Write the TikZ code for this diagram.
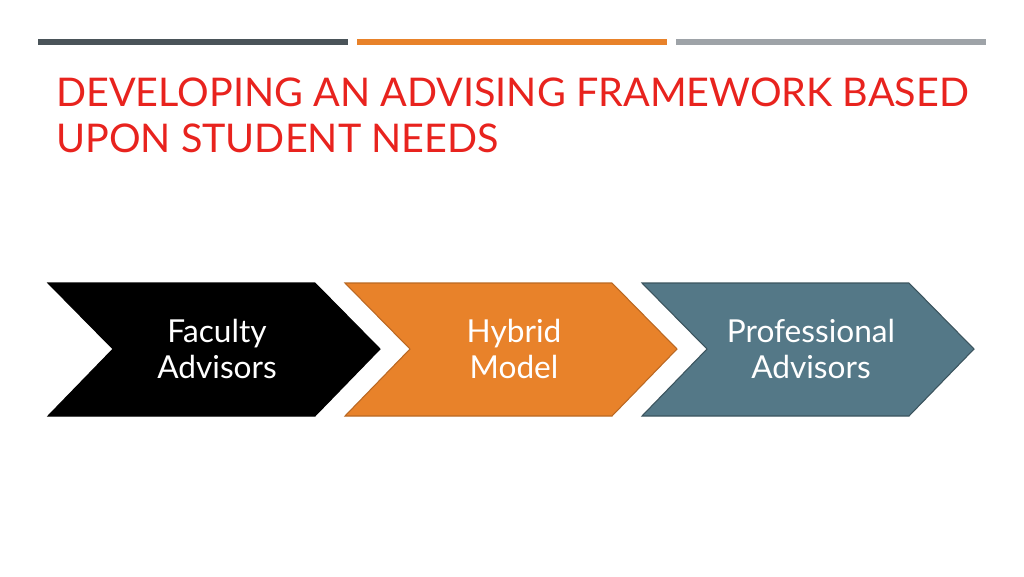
\documentclass[tikz,border=0pt]{standalone}
\usepackage{fontspec}
\setmainfont{Lato}
\usetikzlibrary{positioning}
\definecolor{titlered}{HTML}{E8231E}
\definecolor{bardark}{HTML}{4A5459}
\definecolor{barorange}{HTML}{E8822A}
\definecolor{bargray}{HTML}{9EA3A8}
\definecolor{slate}{HTML}{547887}

\begin{document}
\begin{tikzpicture}[x=0.02cm, y=-0.02cm,
    bar/.style={line width=0.12cm},
    label/.style={text=white, align=center, font=\fontsize{18}{21}\selectfont}]
  \useasboundingbox (0,0) rectangle (1024,576);

  % TOP BARS
  \draw[bar, bardark] (38,42) -- (348,42);
  \draw[bar, barorange] (357,42) -- (667,42);
  \draw[bar, bargray] (676,42) -- (986,42);

  % TITLE
  \node[anchor=north west, text=titlered, align=left,
    font=\fontsize{22.5}{26}\selectfont] (title) at (50,72)
    {DEVELOPING AN ADVISING FRAMEWORK BASED\\UPON STUDENT NEEDS};

  % CHEVRONS
  \foreach \x/\fillc/\drawc/\name in {48/black/black/faculty,
      345/barorange/barorange!80!black/hybrid,
      642/slate/slate!70!black/prof} {
    \draw[fill=\fillc, draw=\drawc, line width=0.6pt]
      (\x,283) -- ++(267,0) -- ++(65,66) -- ++(-65,67) -- ++(-267,0)
      -- ++(65,-67) -- cycle;
    \coordinate (\name) at (\x+169,349);
  }

  \node[label] (facultytext) at (faculty) {Faculty\\Advisors};
  \node[label] (hybridtext) at (hybrid) {Hybrid\\Model};
  \node[label] (proftext) at (prof) {Professional\\Advisors};

\end{tikzpicture}
\end{document}
